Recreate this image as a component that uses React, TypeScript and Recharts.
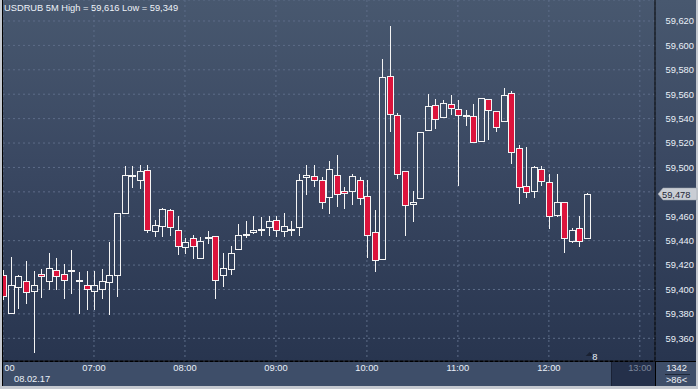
import React from 'react';
import { ComposedChart, Bar, XAxis, YAxis, CartesianGrid, ReferenceLine, ReferenceDot } from 'recharts';

const title = 'USDRUB 5M High = 59,616 Low = 59,349';
const dateLabel = '08.02.17';
const hourTicks = [0, 12, 24, 36, 48, 60, 72, 84];
const hourLabels = ['06:00', '07:00', '08:00', '09:00', '10:00', '11:00', '12:00', '13:00'];
const priceTicks = [59.36, 59.38, 59.4, 59.42, 59.44, 59.46, 59.48, 59.5, 59.52, 59.54, 59.56, 59.58, 59.6, 59.62];
const lastPrice = 59.478;
const markerLabel = '8';
const cornerTop = '1342';
const cornerBottom = '>86<';

const opens = [
  59.412, 59.381, 59.402, 59.407, 59.399, 59.413, 59.407, 59.416, 59.413, 59.415,
  59.407, 59.404, 59.399, 59.400, 59.406, 59.412, 59.463, 59.493, 59.490, 59.498,
  59.448, 59.452, 59.465, 59.449, 59.435, 59.442, 59.426, 59.442, 59.444, 59.412,
  59.417, 59.433, 59.445, 59.447, 59.449, 59.451, 59.457, 59.448, 59.449, 59.451,
  59.492, 59.493, 59.490, 59.476, 59.494, 59.481, 59.481, 59.490, 59.477, 59.447,
  59.425, 59.575, 59.543, 59.497, 59.470, 59.475, 59.531, 59.551, 59.541, 59.552,
  59.548, 59.542, 59.542, 59.522, 59.556, 59.546, 59.538, 59.561, 59.516, 59.485,
  59.481, 59.499, 59.488, 59.461, 59.472, 59.440, 59.450, 59.442,
];
const highs = [
  59.416, 59.427, 59.412, 59.423, 59.415, 59.417, 59.430, 59.426, 59.421, 59.432,
  59.414, 59.415, 59.415, 59.417, 59.439, 59.463, 59.501, 59.501, 59.502, 59.502,
  59.457, 59.467, 59.466, 59.460, 59.442, 59.445, 59.443, 59.448, 59.444, 59.430,
  59.436, 59.454, 59.456, 59.460, 59.459, 59.460, 59.460, 59.463, 59.456, 59.495,
  59.502, 59.502, 59.492, 59.505, 59.510, 59.484, 59.495, 59.492, 59.490, 59.465,
  59.589, 59.616, 59.545, 59.497, 59.481, 59.529, 59.560, 59.556, 59.555, 59.559,
  59.555, 59.547, 59.552, 59.557, 59.556, 59.546, 59.565, 59.563, 59.518, 59.517,
  59.501, 59.501, 59.495, 59.495, 59.472, 59.450, 59.460, 59.479,
];
const lows = [
  59.392, 59.381, 59.385, 59.389, 59.349, 59.394, 59.400, 59.400, 59.393, 59.397,
  59.381, 59.384, 59.384, 59.393, 59.380, 59.395, 59.463, 59.484, 59.483, 59.447,
  59.444, 59.444, 59.445, 59.429, 59.430, 59.426, 59.426, 59.438, 59.393, 59.403,
  59.413, 59.433, 59.443, 59.446, 59.445, 59.445, 59.444, 59.444, 59.445, 59.445,
  59.478, 59.485, 59.467, 59.463, 59.468, 59.467, 59.470, 59.470, 59.427, 59.415,
  59.425, 59.530, 59.491, 59.445, 59.456, 59.475, 59.531, 59.532, 59.541, 59.544,
  59.486, 59.535, 59.521, 59.522, 59.523, 59.530, 59.538, 59.504, 59.471, 59.476,
  59.476, 59.486, 59.450, 59.460, 59.431, 59.439, 59.436, 59.442,
];
const closes = [
  59.395, 59.404, 59.411, 59.398, 59.404, 59.411, 59.418, 59.411, 59.408, 59.415,
  59.407, 59.400, 59.404, 59.407, 59.412, 59.463, 59.494, 59.493, 59.497, 59.449,
  59.453, 59.466, 59.451, 59.436, 59.439, 59.436, 59.440, 59.442, 59.408, 59.418,
  59.430, 59.445, 59.445, 59.449, 59.449, 59.456, 59.449, 59.452, 59.449, 59.490,
  59.494, 59.490, 59.472, 59.499, 59.478, 59.479, 59.493, 59.475, 59.445, 59.424,
  59.574, 59.544, 59.495, 59.469, 59.472, 59.529, 59.550, 59.540, 59.553, 59.549,
  59.543, 59.542, 59.521, 59.557, 59.547, 59.533, 59.559, 59.513, 59.484, 59.480,
  59.500, 59.489, 59.460, 59.472, 59.442, 59.449, 59.440, 59.478,
];

const data = opens.map((o, i) => ({ i, o, h: highs[i], l: lows[i], c: closes[i] }));

const FONT = '"Liberation Sans", Arial, sans-serif';
const fmt = (v: number) => v.toFixed(3).replace('.', ',');

const Candle = (props: any) => {
  const { x, y, width, height, payload } = props;
  if (x == null || y == null || !payload) return null;
  const { o, h, l, c } = payload;
  const top = Math.min(y, y + height);
  const span = Math.abs(height);
  const ppu = h - l > 0 ? span / (h - l) : 0;
  const toY = (v: number) => top + (h - v) * ppu;
  const cx = Math.round(x + width / 2);
  const yH = Math.round(toY(h));
  const yL = Math.round(toY(l));
  const yO = Math.round(toY(o));
  const yC = Math.round(toY(c));
  const bTop = Math.min(yO, yC);
  const bBot = Math.max(yO, yC);
  const down = c < o;
  const wick = '#f4f4f4';
  const flat = bBot - bTop < 2;
  return (
    <g>
      {bTop > yH && <line x1={cx + 0.5} x2={cx + 0.5} y1={yH} y2={bTop} stroke={wick} strokeWidth={1} />}
      {yL > bBot && <line x1={cx + 0.5} x2={cx + 0.5} y1={bBot} y2={yL + 1} stroke={wick} strokeWidth={1} />}
      {flat ? (
        <rect x={cx - 3} y={bTop - 1} width={7} height={2} fill={down ? '#dc143c' : wick} stroke={down ? wick : 'none'} strokeWidth={down ? 0.5 : 0} />
      ) : (
        <rect
          x={cx - 2.5}
          y={bTop + 0.5}
          width={6}
          height={bBot - bTop}
          fill={down ? '#dc143c' : 'none'}
          stroke={wick}
          strokeWidth={1}
        />
      )}
    </g>
  );
};

const XTick = (props: any) => {
  const { x, y, payload } = props;
  const idx = hourTicks.indexOf(payload.value);
  const label = hourLabels[idx] ?? '';
  const last = idx === hourTicks.length - 1;
  return (
    <g>
      {idx === 0 && (
        <defs>
          <clipPath id="firstTickClip">
            <rect x={1.3} y={y - 12} width={60} height={30} />
          </clipPath>
        </defs>
      )}
      <text
        x={x}
        y={y + 2}
        textAnchor="middle"
        fontFamily={FONT}
        fontSize={9.3}
        fill={last ? '#7c869a' : '#eaf0f8'}
        clipPath={idx === 0 ? 'url(#firstTickClip)' : undefined}
      >
        {label}
      </text>
      {idx === 0 && (
        <text x={x + 11} y={y + 13} textAnchor="start" fontFamily={FONT} fontSize={9.3} fill="#eaf0f8">
          {dateLabel}
        </text>
      )}
    </g>
  );
};

const YTick = (props: any) => {
  const { x, y, payload } = props;
  if (Math.abs(payload.value - 59.48) < 1e-6) return <g />;
  return (
    <text x={x + 2.5} y={y + 3.3} textAnchor="start" fontFamily={FONT} fontSize={9.3} fill="#eaf0f8">
      {fmt(payload.value)}
    </text>
  );
};

const PriceTag = (props: any) => {
  const vb = props.viewBox || {};
  const yy = Math.round(vb.y ?? 0);
  const xx = Math.round((vb.x ?? 0) + (vb.width ?? 0));
  return (
    <g>
      <polygon
        points={`${xx + 3},${yy} ${xx + 8},${yy - 6} ${xx + 42},${yy - 6} ${xx + 42},${yy + 6} ${xx + 8},${yy + 6}`}
        fill="#c9cdd4"
        stroke="#9aa0aa"
        strokeWidth={0.5}
      />
      <text x={xx + 7} y={yy + 3.5} fontFamily={FONT} fontSize={9.3} fill="#1d2535">
        {fmt(lastPrice)}
      </text>
    </g>
  );
};

const Marker = (props: any) => {
  const { cx, cy } = props;
  if (cx == null || cy == null) return <g />;
  return (
    <g>
      <polygon points={`${cx - 1},${cy - 5} ${cx + 3},${cy - 9} ${cx + 7},${cy - 5}`} fill="#1a2132" />
      <text x={cx + 5.5} y={cy - 1.5} fontFamily={FONT} fontSize={9.3} fill="#eaf0f8">
        {markerLabel}
      </text>
    </g>
  );
};

export default function App() {
  return (
    <div style={{ position: 'absolute', left: 0, top: 0, width: 698, height: 389, background: '#c5c9d0', overflow: 'hidden' }}>
      <div style={{ position: 'absolute', left: 2, top: 0, width: 694, height: 386, background: '#000' }} />
      <div
        style={{
          position: 'absolute',
          left: 3,
          top: 0,
          width: 693,
          height: 361,
          background: 'linear-gradient(to bottom, #48586f 0%, #3a4862 45%, #28354f 100%)',
        }}
      />
      <div style={{ position: 'absolute', left: 3, top: 362, width: 652, height: 24, background: '#3e4e69' }} />
      <div style={{ position: 'absolute', left: 611, top: 362, width: 44, height: 24, background: '#24304a', borderLeft: '1px solid #1a2236', boxSizing: 'border-box' }} />
      <div style={{ position: 'absolute', left: 656, top: 362, width: 40, height: 24, background: '#3e4e69' }} />
      <div style={{ position: 'absolute', left: 3, top: 0 }}>
        <ComposedChart width={695} height={389} data={data} margin={{ top: 0, right: 0, bottom: 3, left: 0 }}>
          <CartesianGrid stroke="#5d6c88" strokeDasharray="2 3" />
          <XAxis
            type="number"
            dataKey="i"
            domain={[0, 86]}
            ticks={hourTicks}
            interval={0}
            allowDataOverflow
            height={25}
            axisLine={{ stroke: '#000' }}
            tickLine={false}
            tick={<XTick />}
          />
          <YAxis
            orientation="right"
            domain={[59.3414, 59.6372]}
            ticks={priceTicks}
            interval={0}
            allowDataOverflow
            width={43}
            axisLine={{ stroke: '#000' }}
            tickLine={false}
            tick={<YTick />}
          />
          <Bar dataKey={(d: any) => [d.l, d.h]} barSize={6} isAnimationActive={false} shape={(p: any) => <Candle {...p} />} />
          <ReferenceLine y={lastPrice} stroke="none" ifOverflow="visible" label={<PriceTag />} />
          <ReferenceDot x={77} y={59.3414} ifOverflow="visible" shape={(p: any) => <Marker {...p} />} />
        </ComposedChart>
      </div>
      <svg style={{ position: 'absolute', left: 0, top: 0 }} width={698} height={389}>
        <text x={4} y={11} fontFamily={FONT} fontSize={9.3} fill="#eef2f8">
          {title}
        </text>
        <text x={676.5} y={371} textAnchor="middle" fontFamily={FONT} fontSize={9.3} fill="#eef2f8">
          {cornerTop}
        </text>
        <line x1={665} x2={690} y1={374.5} y2={374.5} stroke="#1f2838" strokeWidth={1} />
        <text x={676.5} y={383} textAnchor="middle" fontFamily={FONT} fontSize={9.3} fill="#eef2f8">
          {cornerBottom}
        </text>
      </svg>
    </div>
  );
}
